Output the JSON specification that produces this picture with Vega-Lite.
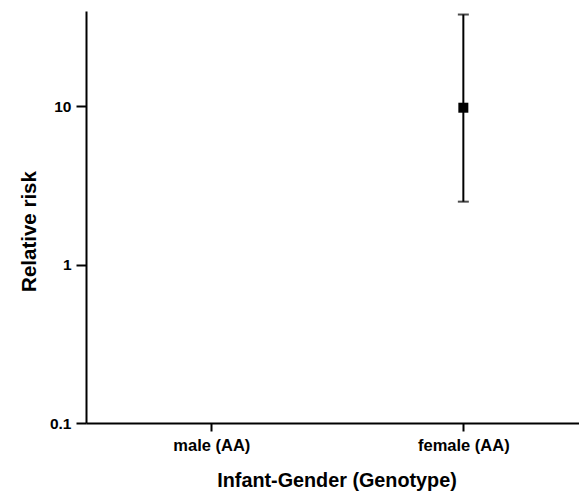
{
  "$schema": "https://vega.github.io/schema/vega-lite/v6.json",
  "autosize": "none",
  "width": 493,
  "height": 412,
  "padding": {"left": 86, "top": 11, "right": 0, "bottom": 73},
  "background": "white",
  "config": {
    "view": {"stroke": null},
    "font": "Liberation Sans",
    "axis": {
      "grid": false,
      "domainColor": "black",
      "domainWidth": 2,
      "tickColor": "black",
      "tickWidth": 2,
      "labelColor": "black",
      "labelFont": "Liberation Sans",
      "labelFontWeight": "bold",
      "titleColor": "black",
      "titleFont": "Liberation Sans",
      "titleFontWeight": "bold"
    },
    "axisX": {
      "labelAngle": 0,
      "tickSize": 8,
      "labelFontSize": 16.5,
      "labelPadding": 6,
      "titleFontSize": 19.8,
      "titlePadding": 17,
      "titleX": 250.5
    },
    "axisY": {
      "tickSize": 10,
      "labelPadding": 5,
      "titleFontSize": 20.5,
      "titlePadding": 10,
      "titleY": 220
    }
  },
  "data": {
    "values": [
      {"gender": "female (AA)", "rr": 9.8, "lower": 2.5, "upper": 38}
    ]
  },
  "encoding": {
    "x": {
      "field": "gender",
      "type": "nominal",
      "scale": {
        "type": "point",
        "domain": ["male (AA)", "female (AA)"],
        "padding": 0.478,
        "align": 0.52
      },
      "axis": {"title": "Infant-Gender (Genotype)"}
    }
  },
  "layer": [
    {
      "mark": {"type": "rule", "color": "black", "strokeWidth": 2},
      "encoding": {
        "y": {
          "field": "lower",
          "type": "quantitative",
          "scale": {"type": "log", "domain": [0.1, 40], "nice": false},
          "axis": {
            "title": "Relative risk",
            "values": [0.1, 1, 10],
            "format": "~g",
            "labelFontSize": 15.5,
            "encode": {"labels": {"update": {"fontSize": {"value": 15.5}}}}
          }
        },
        "y2": {"field": "upper"}
      }
    },
    {
      "mark": {"type": "tick", "color": "black", "thickness": 2, "size": 11},
      "encoding": {"y": {"field": "lower", "type": "quantitative"}}
    },
    {
      "mark": {"type": "tick", "color": "black", "thickness": 2, "size": 11},
      "encoding": {"y": {"field": "upper", "type": "quantitative"}}
    },
    {
      "mark": {"type": "point", "shape": "square", "filled": true, "color": "black", "opacity": 1, "size": 100},
      "encoding": {"y": {"field": "rr", "type": "quantitative"}}
    }
  ]
}
